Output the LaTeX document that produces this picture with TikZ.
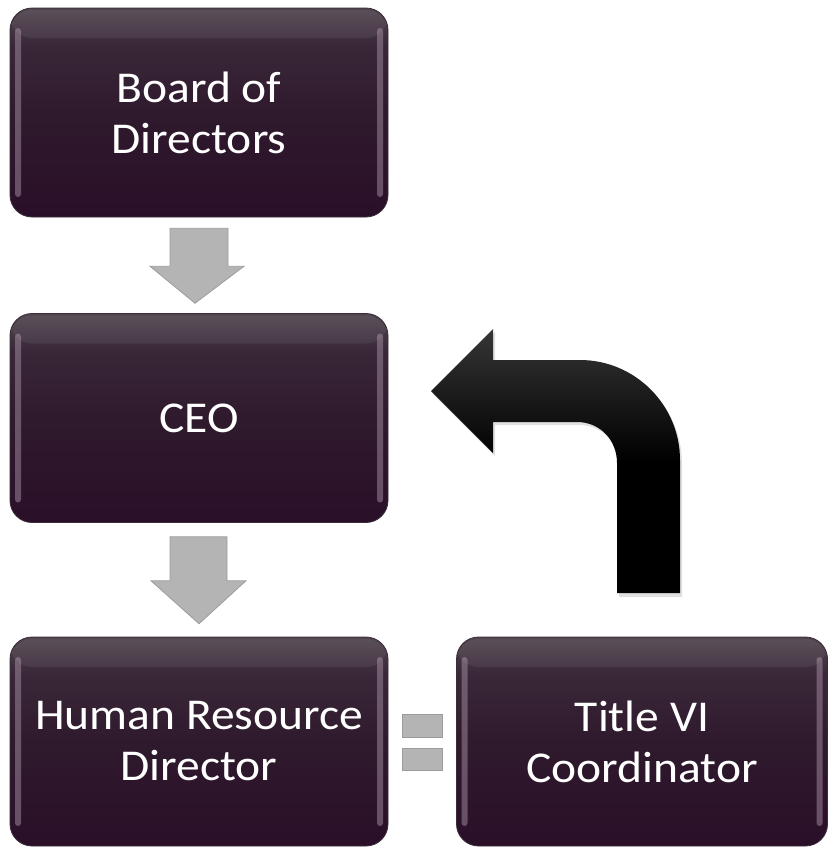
\documentclass[tikz,border=0pt]{standalone}
\usepackage{fontspec}
\setmainfont[FakeStretch=1.08]{Carlito}
\usetikzlibrary{calc}

\definecolor{boxtop}{HTML}{514650}
\definecolor{boxmid}{HTML}{2F1A2D}
\definecolor{boxbot}{HTML}{2A0F28}
\definecolor{boxedge}{HTML}{3B2B39}
\definecolor{gloss}{HTML}{A58FA3}
\definecolor{blockfill}{HTML}{B4B4B4}
\definecolor{blockedge}{HTML}{9C9C9C}
\definecolor{bendtop}{HTML}{363636}
\definecolor{bendbot}{HTML}{000000}

% glossy plum panel, mapped onto the 25bp..75bp band used by TikZ
\pgfdeclareverticalshading{plumshade}{100bp}{%
  color(0bp)=(boxbot); color(25bp)=(boxbot); color(50bp)=(boxmid);
  color(66bp)=(boxmid!70!boxtop); color(75bp)=(boxtop); color(100bp)=(boxtop)}
\pgfdeclareverticalshading{bendshade}{100bp}{%
  color(0bp)=(bendbot); color(25bp)=(bendbot); color(50bp)=(bendbot);
  color(75bp)=(bendtop); color(100bp)=(bendtop)}

\tikzset{
  panel/.style={rounded corners=22pt, shading=plumshade, draw=boxedge,
    line width=0.8pt, inner sep=0pt, minimum height=209pt,
    text=white, align=center, font=\fontsize{44}{51}\selectfont,
    path picture={
      \fill[gloss, opacity=0.5, rounded corners=3pt]
        ($(path picture bounding box.north west)+(5pt,-20pt)$) rectangle
        ($(path picture bounding box.south west)+(11pt,20pt)$);
      \fill[gloss, opacity=0.5, rounded corners=3pt]
        ($(path picture bounding box.north east)+(-5pt,-20pt)$) rectangle
        ($(path picture bounding box.south east)+(-11pt,20pt)$);
      \fill[white, opacity=0.06]
        ($(path picture bounding box.north west)+(0,-2pt)$) rectangle
        ($(path picture bounding box.north east)+(0,-30pt)$);
    }},
  blockarrow/.style={fill=blockfill, draw=blockedge, line width=0.8pt, line join=miter},
  eqbar/.style={fill=blockfill, draw=blockedge, line width=0.8pt},
  bentarrow/.style={shading=bendshade, draw=none},
  bendshadow/.style={fill=black, opacity=0.12}
}

\begin{document}
\begin{tikzpicture}[x=1pt, y=-1pt]
  \useasboundingbox (0,0) rectangle (828,847);

  % panels
  \node[panel, minimum width=378pt] (board) at (199,112.5) {Board of\\Directors};
  \node[panel, minimum width=378pt] (ceo)   at (199,418)   {CEO};
  \node[panel, minimum width=378pt] (hr)    at (199,741.5) {Human Resource\\Director};
  \node[panel, minimum width=371pt] (tvi)   at (642,741.5) {Title VI\\Coordinator};

  % downward block arrows between stacked panels
  \coordinate (m1) at ($(board.south)!0.5!(ceo.north)$);
  \coordinate (m2) at ($(ceo.south)!0.5!(hr.north)$);
  \draw[blockarrow] ($(m1)+(-29,-37)$) -- ($(m1)+(29,-37)$) -- ($(m1)+(29,1)$)
    -- ($(m1)+(45,1)$) -- ($(m1)+(-4,38)$) -- ($(m1)+(-49,1)$)
    -- ($(m1)+(-29,1)$) -- cycle;
  \draw[blockarrow] ($(m2)+(-29,-43)$) -- ($(m2)+(28,-43)$) -- ($(m2)+(28,1)$)
    -- ($(m2)+(47,1)$) -- ($(m2)+(0,44)$) -- ($(m2)+(-48,1)$)
    -- ($(m2)+(-29,1)$) -- cycle;

  % equals sign between the bottom panels
  \coordinate (eq) at ($(hr.east)!0.5!(tvi.west)$);
  \draw[eqbar] ($(eq)+(-20,-27)$) rectangle ($(eq)+(20,-4)$);
  \draw[eqbar] ($(eq)+(-20,7)$) rectangle ($(eq)+(20,29)$);

  % bent arrow from Title VI Coordinator back to CEO
  \coordinate (bendtip) at (431,391);
  \fill[bendshadow] ($(bendtip)+(2,3)$) -- (495,332) -- (495,363) -- (582,363)
    .. controls (637,363) and (682,408) .. (682,463) -- (682,597) -- (619,597)
    -- (619,466) .. controls (619,443) and (602,425) .. (579,425)
    -- (495,425) -- (495,456) -- cycle;
  \path[bentarrow] (bendtip) -- (493,329) -- (493,360) -- (580,360)
    .. controls (635,360) and (680,405) .. (680,460)
    -- (680,593) -- (617,593) -- (617,463)
    .. controls (617,440) and (600,422) .. (577,422)
    -- (493,422) -- (493,453) -- cycle;
\end{tikzpicture}
\end{document}
